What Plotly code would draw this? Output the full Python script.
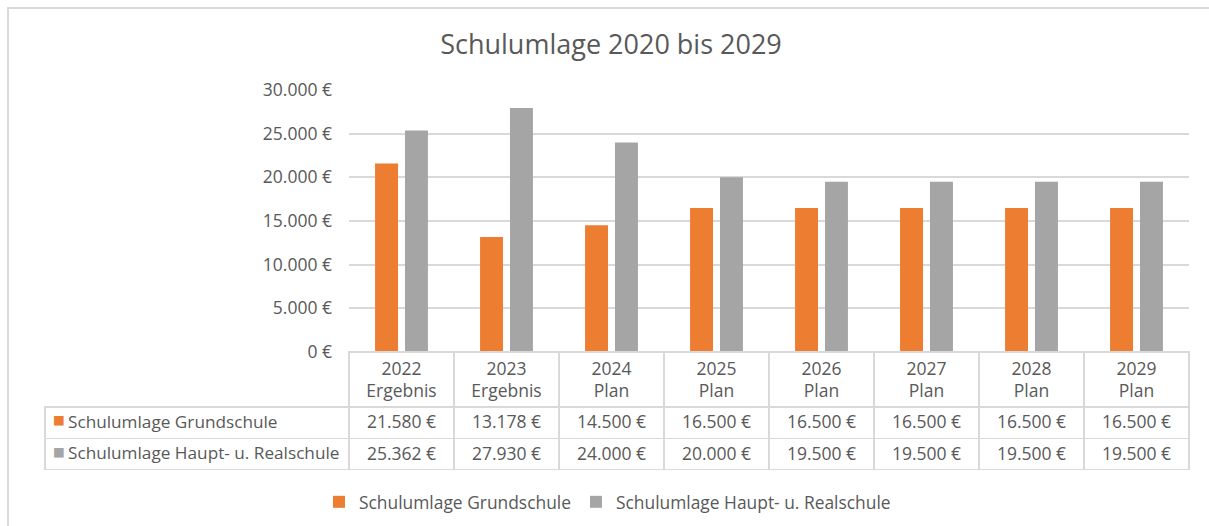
import plotly.graph_objects as go

years = ["2022", "2023", "2024", "2025", "2026", "2027", "2028", "2029"]
stages = ["Ergebnis", "Ergebnis", "Plan", "Plan", "Plan", "Plan", "Plan", "Plan"]
series_names = ["Schulumlage Grundschule", "Schulumlage Haupt- u. Realschule"]
grundschule = [21580, 13178, 14500, 16500, 16500, 16500, 16500, 16500]
haupt_real = [25362, 27930, 24000, 20000, 19500, 19500, 19500, 19500]
colors = ["#ED7D31", "#A5A5A5"]
ytick_vals = [0, 5000, 10000, 15000, 20000, 25000, 30000]

W, H = 1209, 526
FONT = "Open Sans"
TXT = "#595959"
GRID = "#D9D9D9"
CLEAR = "rgba(0,0,0,0)"
NB = "\u00a0"


def eur(v):
    return f"{v:,.0f}".replace(",", ".") + NB + "€"


def px_x(p):
    return p / W


def px_y(p):
    return 1 - p / H


categories = [f"{y}<br>{s}" for y, s in zip(years, stages)]
ncat = len(years)
nser = len(series_names)

fig = go.Figure()
for name, vals, col in zip(series_names, [grundschule, haupt_real], colors):
    fig.add_trace(go.Bar(x=categories, y=vals, name=name, marker_color=col,
                         marker_line_width=0, hoverinfo="x+y"))

# data table grid + values (header row text is the x-axis category labels)
table_dom_y = [px_y(470), px_y(352)]
value_cols = [[""] * nser] + [[eur(g), eur(h)] for g, h in zip(grundschule, haupt_real)]
fig.add_trace(go.Table(
    domain=dict(x=[px_x(45), px_x(1189)], y=table_dom_y),
    columnwidth=[304] + [105] * ncat,
    header=dict(values=[""] * (ncat + 1), height=55,
                fill=dict(color=CLEAR),
                line=dict(color=[CLEAR] + [GRID] * ncat, width=1.5)),
    cells=dict(values=value_cols,
               align="center", height=31.5,
               fill=dict(color=[CLEAR] + ["white"] * ncat),
               line=dict(color=GRID, width=1.5),
               font=dict(family=FONT, size=17.5, color=TXT)),
))

# series names in the first table column
fig.add_trace(go.Table(
    domain=dict(x=[px_x(60), px_x(349)], y=table_dom_y),
    header=dict(values=[""], height=55,
                fill=dict(color=CLEAR), line=dict(color=CLEAR, width=0)),
    cells=dict(values=[[n.replace(" ", NB) for n in series_names]],
               align="left", height=31.5,
               fill=dict(color=CLEAR), line=dict(color=CLEAR, width=0),
               font=dict(family=FONT, size=17.2, color=TXT)),
))

# legend keys in front of the series names
fig.add_trace(go.Table(
    domain=dict(x=[px_x(45), px_x(66)], y=table_dom_y),
    header=dict(values=[""], height=55,
                fill=dict(color=CLEAR), line=dict(color=CLEAR, width=0)),
    cells=dict(values=[["■"] * nser],
               align="left", height=31.5,
               fill=dict(color=CLEAR), line=dict(color=CLEAR, width=0),
               font=dict(family="DejaVu Sans", size=12.5, color=[colors])),
))

fig.update_layout(
    width=W, height=H, autosize=False,
    margin=dict(l=0, r=0, t=0, b=0, autoexpand=False),
    paper_bgcolor="white", plot_bgcolor="white",
    font=dict(family=FONT, color=TXT),
    title=dict(text="Schulumlage 2020 bis 2029", x=px_x(611), xanchor="center",
               y=px_y(45), yanchor="middle",
               font=dict(family=FONT, size=27, color=TXT)),
    barmode="group", bargap=0.43, bargroupgap=0.233,
    xaxis=dict(domain=[px_x(349), px_x(1189)], showticklabels=True,
               tickfont=dict(family=FONT, size=17.5, color=TXT),
               ticklabelstandoff=4,
               showgrid=False, zeroline=False, showline=False, ticks="",
               automargin=False),
    yaxis=dict(domain=[px_y(352), px_y(90)], range=[0, 30000],
               tickvals=ytick_vals, ticktext=[eur(v) for v in ytick_vals],
               showgrid=True, gridcolor=GRID, gridwidth=1.5,
               zeroline=False, showline=False, ticks="",
               ticklabelstandoff=16, automargin=False,
               tickfont=dict(family=FONT, size=17.5, color=TXT)),
    legend=dict(orientation="h", x=px_x(319), xanchor="left",
                y=px_y(502), yanchor="middle",
                font=dict(family=FONT, size=17.4, color=TXT),
                itemclick=False, traceorder="normal"),
    shapes=[dict(type="rect", xref="paper", yref="paper",
                 x0=px_x(8), x1=1.02, y0=-0.05, y1=px_y(8),
                 line=dict(color=GRID, width=2), layer="below")],
)

fig.write_html("out.html", config={"displayModeBar": False},
               post_script="document.body.style.margin='0';document.body.style.overflow='hidden';")
